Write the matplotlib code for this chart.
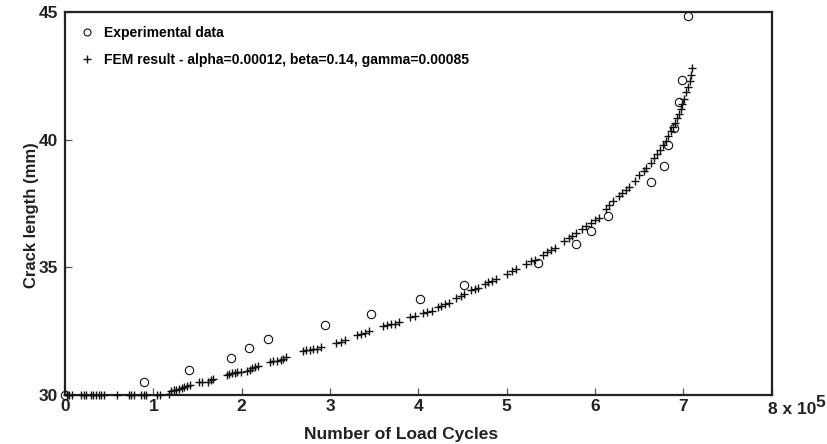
import matplotlib
matplotlib.use("Agg")
import matplotlib.pyplot as plt

plt.rcParams['font.family'] = ['Liberation Sans', 'DejaVu Sans']
plt.rcParams['font.weight'] = 'bold'

# Experimental measurements (x in units of 1e5 cycles, crack length in mm)
exp_cycles = [0, 0.89, 1.40, 1.88, 2.08, 2.30, 2.94, 3.46, 4.02, 4.52, 5.36,
              5.78, 5.96, 6.15, 6.63, 6.78, 6.83, 6.89, 6.95, 6.99, 7.05]
exp_length = [30.0, 30.5, 30.98, 31.45, 31.84, 32.2, 32.75, 33.18, 33.76, 34.31, 35.18,
              35.92, 36.43, 37.02, 38.35, 38.98, 39.8, 40.47, 41.49, 42.35, 44.86]

# FEM result points
fem_cycles = [0.02, 0.05, 0.08, 0.18, 0.21, 0.24, 0.29, 0.32, 0.35, 0.38, 0.41, 0.44,
              0.59, 0.72, 0.75, 0.78, 0.86, 0.89, 0.92, 1.04, 1.07,
              1.18, 1.20, 1.23, 1.26, 1.29, 1.32, 1.35, 1.38, 1.41,
              1.52, 1.55, 1.62, 1.65, 1.68,
              1.83, 1.86, 1.89, 1.92, 1.95, 1.99,
              2.06, 2.09, 2.12, 2.15, 2.18,
              2.32, 2.36, 2.40, 2.44, 2.47, 2.50,
              2.69, 2.73, 2.77, 2.81, 2.85, 2.90,
              3.07, 3.12, 3.17,
              3.30, 3.35, 3.40, 3.44,
              3.60, 3.64, 3.69, 3.74, 3.78,
              3.90, 3.96,
              4.05, 4.10, 4.15,
              4.22, 4.26, 4.30, 4.35,
              4.43, 4.48, 4.52,
              4.60, 4.64, 4.68,
              4.75, 4.79, 4.83, 4.88,
              5.00, 5.06, 5.11,
              5.22, 5.27, 5.32,
              5.41, 5.46, 5.50, 5.55,
              5.65, 5.70, 5.74, 5.78,
              5.85, 5.90, 5.95, 6.00, 6.04,
              6.12, 6.16, 6.20,
              6.27, 6.31, 6.35, 6.39,
              6.45, 6.50, 6.55, 6.58,
              6.63, 6.67, 6.70, 6.73,
              6.77, 6.80, 6.83, 6.86, 6.88,
              6.90, 6.93, 6.95, 6.97,
              6.99, 7.01, 7.03, 7.05, 7.07, 7.09, 7.10]
fem_length = [30.0, 30.0, 30.0, 30.0, 30.0, 30.0, 30.0, 30.0, 30.0, 30.0, 30.0, 30.0,
              30.0, 30.0, 30.0, 30.0, 30.0, 30.0, 30.0, 30.0, 30.0,
              30.05, 30.15, 30.2, 30.22, 30.25, 30.28, 30.3, 30.35, 30.4,
              30.5, 30.5, 30.52, 30.6, 30.65,
              30.8, 30.82, 30.85, 30.88, 30.9, 30.92,
              30.95, 31.0, 31.05, 31.1, 31.15,
              31.3, 31.32, 31.35, 31.38, 31.42, 31.5,
              31.72, 31.75, 31.78, 31.8, 31.82, 31.9,
              32.05, 32.1, 32.15,
              32.35, 32.4, 32.45, 32.5,
              32.7, 32.75, 32.78, 32.8, 32.85,
              33.05, 33.1,
              33.2, 33.25, 33.3,
              33.45, 33.5, 33.55, 33.62,
              33.8, 33.9, 33.95,
              34.1, 34.15, 34.2,
              34.35, 34.42, 34.48, 34.55,
              34.75, 34.85, 34.92,
              35.15, 35.25, 35.3,
              35.5, 35.6, 35.7, 35.78,
              36.05, 36.15, 36.25, 36.35,
              36.5, 36.62, 36.75, 36.85, 36.95,
              37.3, 37.45, 37.6,
              37.8, 37.92, 38.05, 38.15,
              38.4, 38.6, 38.78, 38.9,
              39.1, 39.3, 39.45, 39.6,
              39.8, 39.95, 40.15, 40.35, 40.5,
              40.65, 40.85, 41.0, 41.2,
              41.4, 41.6, 41.85, 42.05, 42.3, 42.55, 42.8]

x_ticks = [0, 1, 2, 3, 4, 5, 6, 7, 8]
x_tick_labels = ['0', '1', '2', '3', '4', '5', '6', '7', '']
y_ticks = [30, 35, 40, 45]

fig, ax = plt.subplots(figsize=(8.28, 4.44), dpi=100)
fig.subplots_adjust(left=0.0785, right=0.932, top=0.973, bottom=0.110)

ax.plot(exp_cycles, exp_length, 'o', markersize=6, markerfacecolor='none',
        markeredgecolor='#111111', markeredgewidth=0.8, clip_on=False,
        label='Experimental data', zorder=3)
ax.plot(fem_cycles, fem_length, '+', markersize=6, color='#111111',
        markeredgewidth=1.0, clip_on=False,
        label='FEM result - alpha=0.00012, beta=0.14, gamma=0.00085', zorder=3)

ax.set_xlim(0, 8)
ax.set_ylim(30, 45)
ax.set_xticks(x_ticks)
ax.set_xticklabels(x_tick_labels)
ax.set_yticks(y_ticks)

ax.tick_params(direction='in', length=5, width=0.9, color='#555555',
               labelsize=12.5, labelcolor='#222222', top=False, right=False)
ax.tick_params(axis='x', pad=3)
ax.tick_params(axis='y', pad=5)
for lab in ax.get_xticklabels() + ax.get_yticklabels():
    lab.set_fontweight('bold')
for sp in ax.spines.values():
    sp.set_linewidth(1.6)
    sp.set_color('#222222')

# last x tick label with the exponent
ax.text(7.955, -0.018, '8 x 10', transform=ax.get_xaxis_transform(),
        ha='left', va='top', fontsize=12.5, fontweight='bold', color='#222222')
ax.text(8.50, 0.0, '5', transform=ax.get_xaxis_transform(),
        ha='left', va='top', fontsize=12.5, fontweight='bold', color='#222222')

ax.set_xlabel('Number of Load Cycles', fontsize=12.5, fontweight='bold',
              color='#222222')
ax.xaxis.set_label_coords(0.475, -0.082)
ax.set_ylabel('Crack length (mm)', fontsize=12, fontweight='bold',
              color='#222222')
ax.yaxis.set_label_coords(-0.037, 0.47)

ax.legend(loc='upper left', frameon=False, handletextpad=0.6,
          labelspacing=0.95, borderaxespad=0.6, handlelength=1.2,
          markerscale=0.85, prop={'weight': 'bold', 'size': 10})

fig.savefig('out.png', dpi=100)
